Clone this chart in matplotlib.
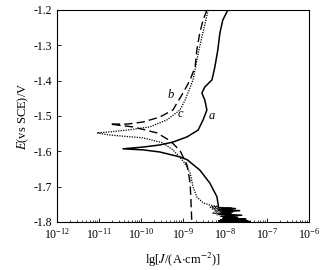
import numpy as np
import matplotlib
matplotlib.use("Agg")
import matplotlib.pyplot as plt

plt.rcParams['font.family'] = ['Liberation Serif', 'DejaVu Serif']
plt.rcParams['axes.unicode_minus'] = False
plt.rcParams['mathtext.fontset'] = 'stix'

# curve a (solid): anodic branch from top down to Ecorr, then cathodic branch
a_lgj = [-7.93, -8.05, -8.12, -8.17, -8.24, -8.31, -8.48, -8.55, -8.48, -8.43, -8.52, -8.64,
         -8.90, -9.24, -9.55, -9.95, -10.43,
         -9.95, -9.55, -9.07, -8.90, -8.60, -8.36, -8.19, -8.15,
         -7.75, -8.15, -7.65, -8.10, -7.85, -8.15, -7.60, -8.10, -7.70, -8.05,
         -7.50, -8.10, -7.80, -8.15, -7.45, -8.00, -7.40]
a_E = [-1.200, -1.228, -1.265, -1.313, -1.361, -1.398, -1.418, -1.435, -1.455, -1.483, -1.511, -1.540,
       -1.559, -1.574, -1.582, -1.588, -1.593,
       -1.596, -1.602, -1.616, -1.624, -1.653, -1.690, -1.729, -1.760,
       -1.762, -1.766, -1.768, -1.772, -1.775, -1.778, -1.781, -1.784, -1.787, -1.790,
       -1.792, -1.794, -1.796, -1.797, -1.798, -1.799, -1.799]

# curve b (dashed)
b_lgj = [-8.43, -8.52, -8.60, -8.67, -8.71, -8.83, -9.00, -9.24, -9.55, -9.95, -10.33, -10.74,
         -10.19, -9.62, -9.31, -9.07, -8.90, -8.83, -8.81, -8.79]
b_E = [-1.200, -1.228, -1.265, -1.313, -1.361, -1.398, -1.435, -1.483, -1.503, -1.517, -1.523, -1.523,
       -1.531, -1.548, -1.570, -1.598, -1.640, -1.690, -1.740, -1.800]

# curve c (dotted)
c_lgj = [-8.40, -8.62, -8.76, -8.95, -9.07, -9.38, -9.79, -10.33, -10.74, -11.05,
         -10.74, -9.95, -9.48, -9.24, -8.98, -8.83, -8.76, -8.67, -8.52, -8.36, -8.19,
         -8.35, -7.85, -8.30, -7.95, -8.25, -7.80, -8.30, -8.00, -8.20]
c_E = [-1.200, -1.313, -1.398, -1.455, -1.483, -1.511, -1.531, -1.540, -1.545, -1.548,
       -1.554, -1.562, -1.576, -1.596, -1.630, -1.661, -1.701, -1.729, -1.746, -1.752, -1.756,
       -1.758, -1.760, -1.763, -1.766, -1.769, -1.772, -1.775, -1.778, -1.780]

labels = ['a', 'b', 'c']
label_pos = [(-8.40, -1.51), (-9.36, -1.449), (-9.14, -1.503)]

fig = plt.figure(figsize=(3.3, 2.7), dpi=100)
ax = fig.add_axes([0.173, 0.178, 0.763, 0.785])

ax.plot(10 ** np.array(a_lgj), a_E, color='black', lw=1.1, ls='-')
ax.plot(10 ** np.array(b_lgj), b_E, color='black', lw=1.0, ls=(0, (6, 3)))
ax.plot(10 ** np.array(c_lgj), c_E, color='black', lw=0.9, ls=(0, (1, 1)))

for lab, (lx, ly) in zip(labels, label_pos):
    ax.text(10 ** lx, ly, lab, fontsize=9, style='italic')

ax.set_xscale('log')
ax.set_xlim(1e-12, 1e-6)
ax.set_ylim(-1.8, -1.2)
ax.set_yticks(np.arange(-1.8, -1.15, 0.1))
ax.set_yticklabels(['%.1f' % v for v in np.arange(-1.8, -1.15, 0.1)])
ax.tick_params(direction='in', labelsize=8.5, length=3, width=0.6)
ax.tick_params(which='minor', direction='in', length=1.5, width=0.5)
for s in ax.spines.values():
    s.set_linewidth(0.8)

ax.set_xlabel(r'lg[$\it{J}$/(A$\cdot$cm$^{-2}$)]', fontsize=9, labelpad=7)
ax.set_ylabel(r'$\it{E}$(vs SCE)/V', fontsize=9, labelpad=2)

fig.savefig('out.png', dpi=100)
